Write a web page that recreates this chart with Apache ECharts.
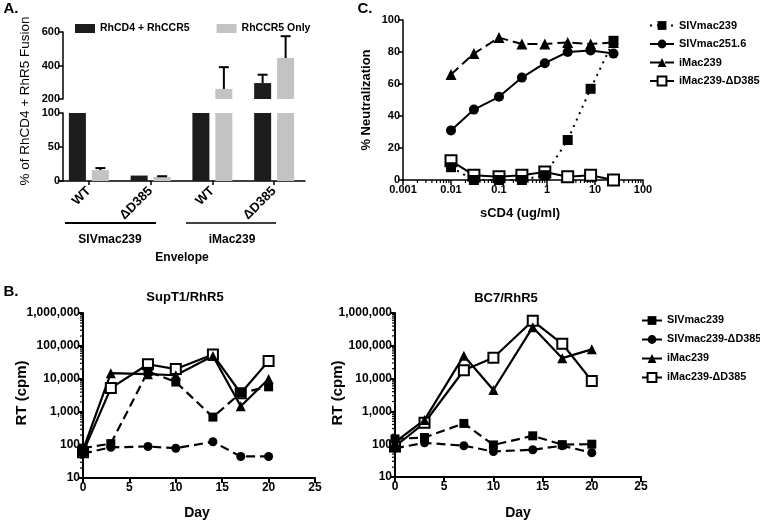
<!DOCTYPE html>
<html><head><meta charset="utf-8">
<script src="https://cdn.jsdelivr.net/npm/echarts@6/dist/echarts.min.js"></script>
<style>html,body{margin:0;padding:0;background:#fff}#c{width:760px;height:522px}</style>
</head><body><div id="c"></div>
<script>
// ---------- Panel A data ----------
const aCategories = ['SIVmac239 WT', 'SIVmac239 ΔD385', 'iMac239 WT', 'iMac239 ΔD385'];
const aCatLabels = ['WT', 'ΔD385', 'WT', 'ΔD385'];
const aGroupNames = ['SIVmac239', 'iMac239'];
const aSeriesNames = ['RhCD4 + RhCCR5', 'RhCCR5 Only'];
const aBoth = [100, 8, 100, 295];
const aCCR5Only = [16, 6, 260, 445];
const aBothErrTop = [null, null, null, 345];
const aCCR5OnlyErrTop = [19, 7, 390, 575];
const aTopRange = [200, 600, 200];   // min, max, interval (upper segment)
const aBottomRange = [0, 100, 50];   // min, max, interval (lower segment)

// ---------- Panel C data ----------
const cDose = [0.01, 0.03, 0.1, 0.3, 0.9, 2.7, 8.1, 24.3];
const cNames = ['SIVmac239', 'SIVmac251.6', 'iMac239', 'iMac239-ΔD385'];
const cSIVmac239 = [8, 0, 0, 0, 3, 25, 57, 87];
const cSIVmac2516 = [31, 44, 52, 64, 73, 80, 81, 79];
const cIMac239 = [66, 79, 89, 85, 85, 86, 85, 86];
const cIMac239D385 = [12, 3, 2, 3, 5, 2, 3, 0];
const cXTickLabels = ['0.001', '0.01', '0.1', '1', '10', '100'];

// ---------- Panel B data ----------
const bDays = [0, 3, 7, 10, 14, 17, 20];
const bNames = ['SIVmac239', 'SIVmac239-ΔD385', 'iMac239', 'iMac239-ΔD385'];
const supT1_SIVmac239 = [80, 110, 17000, 8100, 700, 3800, 5800];
const supT1_SIVmac239D385 = [55, 85, 90, 80, 125, 45, 45];
const supT1_iMac239 = [70, 15000, 14000, 13000, 50000, 1500, 10000];
const supT1_iMac239D385 = [60, 5300, 28000, 20000, 55000, 3700, 35000];
const bc7_SIVmac239 = [145, 160, 430, 95, 180, 97, 100];
const bc7_SIVmac239D385 = [75, 110, 90, 60, 68, 90, 55];
const bc7_iMac239 = [115, 550, 50000, 4500, 370000, 42000, 78000];
const bc7_iMac239D385 = [85, 450, 18000, 43000, 580000, 115000, 8500];
const bYTickLabels = ['10', '100', '1,000', '10,000', '100,000', '1,000,000'];
const bXRange = [0, 25, 5];

// ---------- styles ----------
const FONT = 'Liberation Sans, Arial, sans-serif';
const BLACK = '#1c1c1c';
const GREY = '#c3c3c3';

function axisBase(w) {
  return {
    axisLine: { show: true, onZero: false, lineStyle: { color: '#000', width: w } },
    axisTick: { show: true, length: 5, lineStyle: { color: '#000', width: w } },
    splitLine: { show: false },
    axisLabel: { color: '#000', fontFamily: FONT, fontWeight: 'bold', fontSize: 11, margin: 3 }
  };
}
function merge(a, b) {
  const o = Object.assign({}, a);
  for (const k in b) {
    if (b[k] && typeof b[k] === 'object' && !Array.isArray(b[k]) && a[k] && typeof a[k] === 'object') o[k] = merge(a[k], b[k]);
    else o[k] = b[k];
  }
  return o;
}

// minor ticks for log axes
function logMinor(e0, e1) {
  const out = [];
  for (let e = e0; e < e1; e++) for (let k = 2; k <= 9; k++) out.push(k * Math.pow(10, e));
  return out;
}

const grids = [
  { left: 58, width: 247, top: 32, height: 67 },   // 0 A upper
  { left: 58, width: 247, top: 113, height: 68 },  // 1 A lower
  { left: 403, width: 240, top: 20, height: 160 }, // 2 C
  { left: 83, width: 232, top: 313, height: 165 }, // 3 B SupT1
  { left: 395, width: 246, top: 313, height: 164 } // 4 B BC7
];

const xAxes = [
  merge(axisBase(1.5), { gridIndex: 0, type: 'category', data: aCategories, show: false }),
  merge(axisBase(1.5), { gridIndex: 1, type: 'category', data: aCategories,
    axisTick: { alignWithLabel: true, length: 4 },
    axisLabel: { rotate: 45, margin: 8, fontSize: 13, formatter: (v, i) => aCatLabels[i] } }),
  merge(axisBase(1.5), { gridIndex: 2, type: 'log', logBase: 10, min: 0.001, max: 100,
    axisTick: { length: 5 },
    axisLabel: { margin: 4, fontSize: 11, formatter: v => cXTickLabels[Math.round(Math.log10(v)) + 3] } }),
  merge(axisBase(2), { gridIndex: 3, type: 'value', min: bXRange[0], max: bXRange[1], interval: bXRange[2],
    axisLabel: { fontSize: 12, margin: 4 } }),
  merge(axisBase(2), { gridIndex: 4, type: 'value', min: bXRange[0], max: bXRange[1], interval: bXRange[2],
    axisLabel: { fontSize: 12, margin: 4 } })
];
const yAxes = [
  merge(axisBase(1.5), { gridIndex: 0, type: 'value', offset: -5, min: aTopRange[0], max: aTopRange[1], interval: aTopRange[2] }),
  merge(axisBase(1.5), { gridIndex: 1, type: 'value', offset: -5, min: aBottomRange[0], max: aBottomRange[1], interval: aBottomRange[2] }),
  merge(axisBase(1.5), { gridIndex: 2, type: 'value', min: 0, max: 100, interval: 20 }),
  merge(axisBase(2), { gridIndex: 3, type: 'log', logBase: 10, min: 10, max: 1000000,
    axisLabel: { fontSize: 12, formatter: v => bYTickLabels[Math.round(Math.log10(v)) - 1] } }),
  merge(axisBase(2), { gridIndex: 4, type: 'log', logBase: 10, min: 10, max: 1000000,
    axisLabel: { fontSize: 12, formatter: v => bYTickLabels[Math.round(Math.log10(v)) - 1] } })
];

const series = [];

// ---------- Panel A bars ----------
[0, 1].forEach(g => {
  series.push({ type: 'bar', name: aSeriesNames[0], xAxisIndex: g, yAxisIndex: g, data: aBoth,
    barWidth: 17, barGap: '35%', itemStyle: { color: BLACK }, clip: true, animation: false });
  series.push({ type: 'bar', name: aSeriesNames[1], xAxisIndex: g, yAxisIndex: g, data: aCCR5Only,
    barWidth: 17, barGap: '35%', itemStyle: { color: GREY }, clip: true, animation: false });
});
// error bars
function errData(vals, tops, upper) {
  const out = [];
  vals.forEach((v, i) => {
    const t = tops[i];
    if (t == null) return;
    if ((t > aBottomRange[1]) === upper) out.push([i, v, t]);
  });
  return out;
}
function errSeries(g, vals, tops, dx) {
  return {
    type: 'custom', xAxisIndex: g, yAxisIndex: g, silent: true, animation: false, z: 5,
    data: errData(vals, tops, g === 0),
    renderItem: (params, api) => {
      const b = api.coord([api.value(0), api.value(1)]);
      const t = api.coord([api.value(0), api.value(2)]);
      const x = b[0] + dx;
      return { type: 'group', children: [
        { type: 'line', shape: { x1: x, y1: b[1], x2: x, y2: t[1] }, style: { stroke: '#000', lineWidth: 2 } },
        { type: 'line', shape: { x1: x - 5, y1: t[1], x2: x + 5, y2: t[1] }, style: { stroke: '#000', lineWidth: 2 } }
      ]};
    }
  };
}
[0, 1].forEach(g => {
  series.push(errSeries(g, aBoth, aBothErrTop, -11.5));
  series.push(errSeries(g, aCCR5Only, aCCR5OnlyErrTop, 11.5));
});

// ---------- Panel C lines ----------
function zipXY(xs, ys) { return xs.map((x, i) => [x, ys[i]]); }
const cStyle = {
  'SIVmac239': { symbol: 'rect', size: 10, dash: [2, 5] },
  'SIVmac251.6': { symbol: 'circle', size: 10, dash: 'solid' },
  'iMac239': { symbol: 'triangle', size: 11, dash: [10, 5] },
  'iMac239-ΔD385': { symbol: 'emptyRect', size: 11, dash: 'solid' }
};
const cValues = { 'SIVmac239': cSIVmac239, 'SIVmac251.6': cSIVmac2516, 'iMac239': cIMac239, 'iMac239-ΔD385': cIMac239D385 };
['iMac239-ΔD385', 'iMac239', 'SIVmac251.6', 'SIVmac239'].forEach(n => {
  const s = cStyle[n];
  series.push({ type: 'line', name: 'C:' + n, xAxisIndex: 2, yAxisIndex: 2, data: zipXY(cDose, cValues[n]),
    symbol: s.symbol, symbolSize: s.size, showAllSymbol: true, animation: false,
    itemStyle: { color: '#000', borderWidth: 2 },
    lineStyle: { color: '#000', width: 2, type: s.dash } });
});

// ---------- Panel B lines ----------
const bStyle = {
  'SIVmac239': { symbol: 'rect', size: 9, dash: [9, 5] },
  'SIVmac239-ΔD385': { symbol: 'circle', size: 9, dash: [9, 5] },
  'iMac239': { symbol: 'triangle', size: 10, dash: 'solid' },
  'iMac239-ΔD385': { symbol: 'emptyRect', size: 10, dash: 'solid' }
};
const bValues = [
  { 'SIVmac239': supT1_SIVmac239, 'SIVmac239-ΔD385': supT1_SIVmac239D385, 'iMac239': supT1_iMac239, 'iMac239-ΔD385': supT1_iMac239D385 },
  { 'SIVmac239': bc7_SIVmac239, 'SIVmac239-ΔD385': bc7_SIVmac239D385, 'iMac239': bc7_iMac239, 'iMac239-ΔD385': bc7_iMac239D385 }
];
[0, 1].forEach(p => {
  ['iMac239-ΔD385', 'iMac239', 'SIVmac239-ΔD385', 'SIVmac239'].forEach(n => {
    const s = bStyle[n];
    series.push({ type: 'line', name: n, xAxisIndex: 3 + p, yAxisIndex: 3 + p, data: zipXY(bDays, bValues[p][n]),
      symbol: s.symbol, symbolSize: s.size, showAllSymbol: true, animation: false,
      itemStyle: { color: '#000', borderWidth: 2 },
      lineStyle: { color: '#000', width: 2.2, type: s.dash } });
  });
});

// ---------- minor ticks on log axes ----------
function minorSeries(axisIdx, vals, vertical) {
  return {
    type: 'custom', xAxisIndex: axisIdx, yAxisIndex: axisIdx, silent: true, animation: false, clip: false,
    data: vals.map(v => vertical ? [0, v] : [v, 0]),
    renderItem: (params, api) => {
      const p = api.coord([api.value(0), api.value(1)]);
      return vertical
        ? { type: 'line', shape: { x1: p[0] - 3, y1: p[1], x2: p[0], y2: p[1] }, style: { stroke: '#000', lineWidth: 1.2 } }
        : { type: 'line', shape: { x1: p[0], y1: p[1], x2: p[0], y2: p[1] + 3 }, style: { stroke: '#000', lineWidth: 1.2 } };
    }
  };
}
series.push(minorSeries(2, logMinor(-3, 2), false));
series.push(minorSeries(3, logMinor(1, 6), true));
series.push(minorSeries(4, logMinor(1, 6), true));

// ---------- text ----------
function txt(text, x, y, size, weight, rot) {
  return { type: 'text', x: x, y: y, rotation: rot || 0, silent: true,
    style: { text: text, fill: '#000', font: (weight || 'bold') + ' ' + size + 'px ' + FONT, align: 'center', verticalAlign: 'middle' } };
}
const graphics = [
  txt('A.', 11, 9, 15), txt('C.', 365, 9, 15), txt('B.', 11, 292, 15),
  txt('% of RhCD4 + RhR5 Fusion', 25, 101, 13.5, 'normal', Math.PI / 2),
  txt(aGroupNames[0], 110, 240, 12), txt(aGroupNames[1], 232, 240, 12),
  txt('Envelope', 182, 258, 12),
  { type: 'line', silent: true, shape: { x1: 65, y1: 223, x2: 156, y2: 223 }, style: { stroke: '#000', lineWidth: 2 } },
  { type: 'line', silent: true, shape: { x1: 186, y1: 223, x2: 276, y2: 223 }, style: { stroke: '#000', lineWidth: 1.3 } },
  txt('% Neutralization', 366, 100, 13, 'bold', Math.PI / 2),
  txt('sCD4 (ug/ml)', 520, 213, 13),
  txt('SupT1/RhR5', 185, 297, 13), txt('BC7/RhR5', 506, 298, 13),
  txt('RT (cpm)', 22, 393, 15, 'bold', Math.PI / 2), txt('RT (cpm)', 338, 393, 15, 'bold', Math.PI / 2),
  txt('Day', 197, 513, 14), txt('Day', 518, 513, 14)
];

const legendText = { color: '#000', fontFamily: FONT, fontWeight: 'bold', fontSize: 11 };
const option = {
  backgroundColor: '#fff',
  animation: false,
  grid: grids,
  xAxis: xAxes,
  yAxis: yAxes,
  series: series,
  legend: [
    { data: aSeriesNames, left: 70, top: 18, orient: 'horizontal', icon: 'rect', itemWidth: 20, itemHeight: 9, itemGap: 27,
      selectedMode: false, textStyle: Object.assign({}, legendText, { fontSize: 10.5 }) },
    { data: cNames.map(n => 'C:' + n), formatter: n => n.slice(2), left: 644, top: 15, orient: 'vertical',
      itemWidth: 24, itemHeight: 11, itemGap: 7.5, selectedMode: false, textStyle: legendText },
    { data: bNames, left: 636, top: 310, orient: 'vertical',
      itemWidth: 20, itemHeight: 11, itemGap: 8, selectedMode: false, textStyle: Object.assign({}, legendText, { fontSize: 10.8 }) }
  ],
  graphic: graphics
};

const chart = echarts.init(document.getElementById('c'), null, { renderer: 'canvas', width: 760, height: 522 });
chart.setOption(option);
</script>
</body></html>
